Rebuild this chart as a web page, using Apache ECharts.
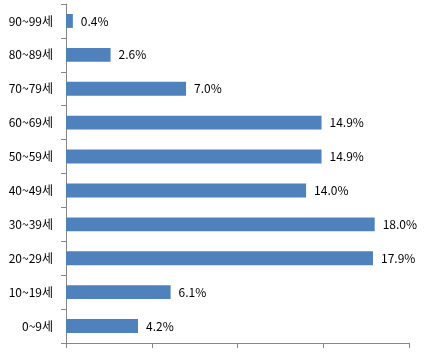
<!DOCTYPE html>
<html>
<head>
<meta charset="utf-8">
<script src="https://cdn.jsdelivr.net/npm/echarts@6/dist/echarts.min.js"></script>
<style>
html, body { margin: 0; padding: 0; background: #fff; }
#main { width: 438px; height: 353px; }
</style>
</head>
<body>
<div id="main"></div>
<script>
// 연령대별 비율 (%)
var categories = ['0~9세', '10~19세', '20~29세', '30~39세', '40~49세', '50~59세', '60~69세', '70~79세', '80~89세', '90~99세'];
var values = [4.2, 6.1, 17.9, 18.0, 14.0, 14.9, 14.9, 7.0, 2.6, 0.4];

var myChart = echarts.init(document.getElementById('main'));

var axisColor = '#878787';
var fontFamily = '"Noto Sans CJK KR", "Noto Sans", sans-serif';

option = {
    animation: false,
    grid: {
        left: 66,
        right: 29,
        top: 4,
        bottom: 10
    },
    xAxis: {
        type: 'value',
        min: 0,
        max: 20,
        interval: 5,
        axisLine: { show: true, lineStyle: { color: axisColor } },
        axisTick: { show: true, length: 5, lineStyle: { color: axisColor } },
        axisLabel: { show: false },
        splitLine: { show: false }
    },
    yAxis: {
        type: 'category',
        data: categories,
        axisLine: { show: true, lineStyle: { color: axisColor } },
        axisTick: { show: true, length: 5, lineStyle: { color: axisColor } },
        axisLabel: {
            margin: 13,
            color: '#000',
            fontSize: 12,
            fontFamily: fontFamily
        }
    },
    series: [{
        type: 'bar',
        data: values,
        barCategoryGap: '59%',
        itemStyle: { color: '#4f81bd' },
        label: {
            show: true,
            position: 'right',
            distance: 8,
            color: '#000',
            fontSize: 12,
            fontFamily: fontFamily,
            formatter: function (p) { return p.value.toFixed(1) + '%'; }
        }
    }]
};

myChart.setOption(option);
</script>
</body>
</html>
